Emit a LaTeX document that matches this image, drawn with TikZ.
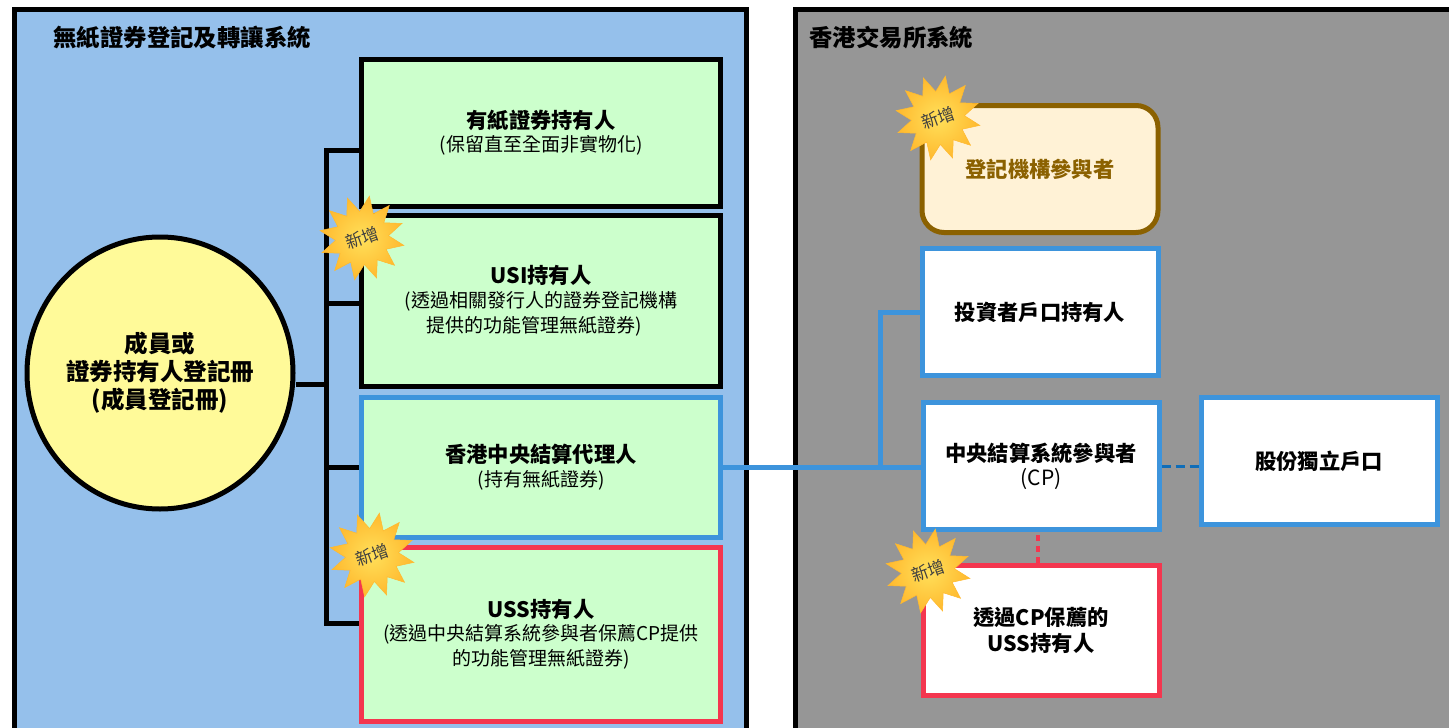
\documentclass[tikz,border=0pt]{standalone}
\usepackage{fontspec}
\setmainfont{Noto Sans CJK TC}
\usetikzlibrary{positioning,shapes.geometric}
\definecolor{panelblue}{HTML}{95C0EB}
\definecolor{panelgrey}{HTML}{969696}
\definecolor{boxgreen}{HTML}{CCFFCC}
\definecolor{linkblue}{HTML}{3D94DC}
\definecolor{linkred}{HTML}{F4364F}
\definecolor{dashblue}{HTML}{0F6DB8}
\definecolor{brownline}{HTML}{8B6100}
\definecolor{creamfill}{HTML}{FFF2D6}
\definecolor{starlight}{HTML}{FFE05A}
\definecolor{stardark}{HTML}{FFB92E}
\newcommand{\headfont}{\fontsize{21.3}{26}\selectfont\bfseries}
\newcommand{\subfont}{\fontsize{19}{23}\selectfont\mdseries}

\begin{document}
\begin{tikzpicture}[x = 1pt, y = -1pt,
		panel_node/.style = {rectangle, draw = black, line width = 5pt, anchor = north west, inner sep = 0pt},
		green_node/.style = {rectangle, draw = black, fill = boxgreen, line width = 5pt, inner sep = 0pt, align = center, font = \headfont, minimum width = 359pt},
		white_node/.style = {rectangle, draw = linkblue, fill = white, line width = 5pt, inner sep = 0pt, align = center, font = \headfont, minimum width = 236pt},
		new_node/.style = {star, star points = 12, star point ratio = 1.6, minimum size = 85pt, inner sep = 0pt, draw = stardark, line width = .5pt, inner color = starlight, outer color = stardark, text = black!75, font = \fontsize{17}{20}\selectfont, rotate = 20},
		branch/.style = {line width = 5pt},
		]
		\clip (0,0) rectangle (1449,728);
		\fill[white] (0,0) rectangle (1449,728);

		%panels
		\node[panel_node, fill = panelblue, minimum width = 732pt, minimum height = 760pt] (left_panel) at (12,7) {};
		\node[panel_node, fill = panelgrey, minimum width = 700pt, minimum height = 760pt] (right_panel) at (792.5,7) {};
		\node[anchor = west, font = \fontsize{23.4}{26}\selectfont\bfseries] (left_title) at (50,38) {無紙證券登記及轉讓系統};
		\node[anchor = west, font = \fontsize{23.4}{26}\selectfont\bfseries] (right_title) at (806,38) {香港交易所系統};

		%left side
		\node[ellipse, draw = black, fill = yellow!40!white, line width = 5pt, minimum width = 266pt, minimum height = 272pt, inner sep = 0pt, align = center, font = \fontsize{23.5}{28}\selectfont\bfseries] (register) at (160,373) {成員或\\證券持有人登記冊\\(成員登記冊)};

		\coordinate (trunk_in) at (326,384);
		\coordinate (trunk_paper) at (326,150);
		\coordinate (trunk_usi) at (326,303);
		\coordinate (trunk_agent) at (326,467);
		\coordinate (trunk_uss) at (326,623);

		\node[green_node, minimum height = 147pt] (paper) at (541,133) {有紙證券持有人\\[-3pt]{\subfont (保留直至全面非實物化)}};
		\node[green_node, minimum height = 171pt] (usi) at (541,301) {USI持有人\\[-2pt]{\subfont (透過相關發行人的證券登記機構}\\[-1pt]{\subfont\hspace*{-14pt}提供的功能管理無紙證券)}};
		\node[green_node, draw = linkblue, minimum height = 140pt] (agent) at (541,467) {香港中央結算代理人\\[-2pt]{\subfont (持有無紙證券)}};
		\node[green_node, draw = linkred, minimum height = 174pt] (uss) at (541,634) {USS持有人\\[-3pt]{\subfont (透過中央結算系統參與者保薦CP提供}\\[-1pt]{\subfont 的功能管理無紙證券)}};

		\draw[branch, line cap = rect] (trunk_paper) -- (trunk_uss);
		\draw[branch] (register.east |- trunk_in) -- (trunk_in);
		\draw[branch] (trunk_paper) -- (paper.west |- trunk_paper);
		\draw[branch] (trunk_usi) -- (usi.west |- trunk_usi);
		\draw[branch] (trunk_agent) -- (agent.west |- trunk_agent);
		\draw[branch] (trunk_uss) -- (uss.west |- trunk_uss);

		%right side
		\node[white_node, draw = brownline, fill = creamfill, rounded corners = 22pt, minimum height = 127pt, text = brownline] (registrar) at (1040,169) {登記機構參與者};
		\node[white_node, minimum height = 127pt] (investor) at (1040,312) {投資者戶口持有人};
		\node[white_node, minimum height = 127pt] (cp) at (1041,466) {中央結算系統參與者\\[-2pt]{\fontsize{21}{23}\selectfont\mdseries (CP)}};
		\node[white_node, minimum height = 127pt] (segregated) at (1319,461) {股份獨立戶口};
		\node[white_node, draw = linkred, minimum height = 130pt] (uss_cp) at (1041,630) {透過CP保薦的\\USS持有人};

		\coordinate (split) at (880,467);
		\draw[line width = 5pt, draw = linkblue] (agent.east) -- (agent.east -| cp.west);
		\draw[line width = 5pt, draw = linkblue] (split) |- (investor.west);
		\draw[line width = 3pt, draw = dashblue, dash pattern = on 9pt off 5pt] (cp.east) -- (cp.east -| segregated.west);
		\draw[line width = 4pt, draw = linkred, dash pattern = on 6pt off 5pt] (uss_cp.north -| 1038,0) -- (cp.south -| 1038,0);

		%new marks
		\node[new_node] (new_usi) at (362,238) {新增};
		\node[new_node] (new_uss) at (372,555) {新增};
		\node[new_node] (new_registrar) at (938,118) {新增};
		\node[new_node] (new_uss_cp) at (928,571) {新增};

\end{tikzpicture}
\end{document}
